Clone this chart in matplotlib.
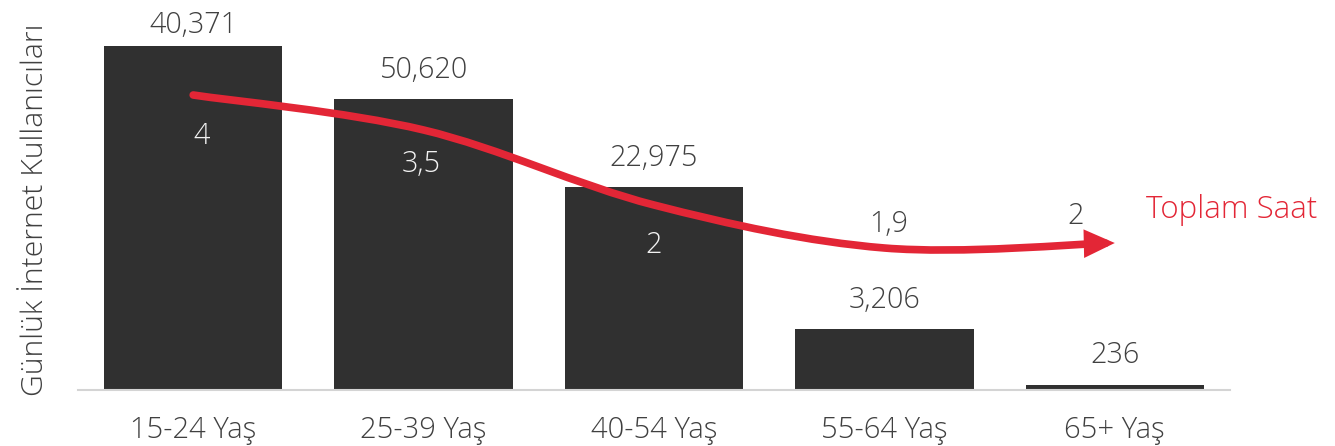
import matplotlib
matplotlib.use("Agg")
import matplotlib.pyplot as plt
from matplotlib.path import Path
from matplotlib.patches import FancyArrowPatch

# data
age_groups = ["15-24 Yaş", "25-39 Yaş", "40-54 Yaş", "55-64 Yaş", "65+ Yaş"]
bar_heights = [344, 291, 203, 61, 5.5]          # drawn height of the bars
bar_labels = ["40,371", "50,620", "22,975", "3,206", "236"]
line_levels = [295, 260, 185, 142, 147]          # drawn level of the red curve
line_labels = ["4", "3,5", "2", "1,9", "2"]

DARK = "#303030"
RED = "#E32636"
TXT = "#404040"

plt.rcParams["font.family"] = ["Open Sans", "DejaVu Sans"]
plt.rcParams["font.weight"] = 300

fig = plt.figure(figsize=(13.35, 4.46), dpi=100)
ax = fig.add_axes([78 / 1335, 56 / 446, 1152 / 1335, 390 / 446])

x = list(range(len(age_groups)))
bars = ax.bar(x, bar_heights, width=0.774, color=DARK, zorder=2)

ax.set_xlim(-0.5, 4.5)
ax.set_ylim(0, 390)
for s in ["top", "right", "left"]:
    ax.spines[s].set_visible(False)
ax.spines["bottom"].set_color("#d4d4d4")
ax.spines["bottom"].set_linewidth(1.5)
ax.set_yticks([])
ax.set_xticks(x)
ax.set_xticklabels(age_groups, fontsize=21, color=TXT, fontweight=300)
ax.tick_params(axis="x", length=0, pad=18.5)

# bar value labels
for i, (h, lab) in enumerate(zip(bar_heights, bar_labels)):
    off = 15 if i == 0 else 21
    ax.annotate(lab, (i, h), xytext=(0, off), textcoords="offset points",
                ha="center", va="center", fontsize=20.7, color=TXT, fontweight=300)

# smooth red curve (Catmull-Rom through the points, as bezier segments)
pts = list(zip(x, line_levels))
verts = [pts[0]]
codes = [Path.MOVETO]
n = len(pts)
for i in range(n - 1):
    p0 = pts[max(i - 1, 0)]
    p1 = pts[i]
    p2 = pts[i + 1]
    p3 = pts[min(i + 2, n - 1)]
    c1 = (p1[0] + (p2[0] - p0[0]) / 6, p1[1] + (p2[1] - p0[1]) / 6)
    c2 = (p2[0] - (p3[0] - p1[0]) / 6, p2[1] - (p3[1] - p1[1]) / 6)
    verts += [c1, c2, p2]
    codes += [Path.CURVE4] * 3

arrow = FancyArrowPatch(path=Path(verts, codes),
                        arrowstyle="-|>,head_length=13,head_width=6",
                        mutation_scale=1, color=RED, lw=5.5,
                        capstyle="round", joinstyle="miter", zorder=3)
ax.add_patch(arrow)

# line value labels
offsets = [(6, -30), (-2, -25), (0, -29), (3, 17), (-28, 19)]
for i, (lv, lab) in enumerate(zip(line_levels, line_labels)):
    inside = lv - 30 < bar_heights[i]
    ax.annotate(lab, (i, lv), xytext=offsets[i], textcoords="offset points",
                ha="center", va="center", fontsize=20.7, fontweight=300,
                color="#f2f2f2" if inside else TXT, zorder=4)

fig.text(1232 / 1335, 1 - 210 / 446, "Toplam Saat", color=RED, fontsize=22.5,
         ha="center", va="center", fontweight=300)

fig.text(35 / 1335, 1 - 210 / 446, "Günlük İnternet Kullanıcıları", rotation=90,
         ha="center", va="center", fontsize=21.7, color=TXT, fontweight=300)

fig.savefig("out.png", dpi=100, facecolor="white")
